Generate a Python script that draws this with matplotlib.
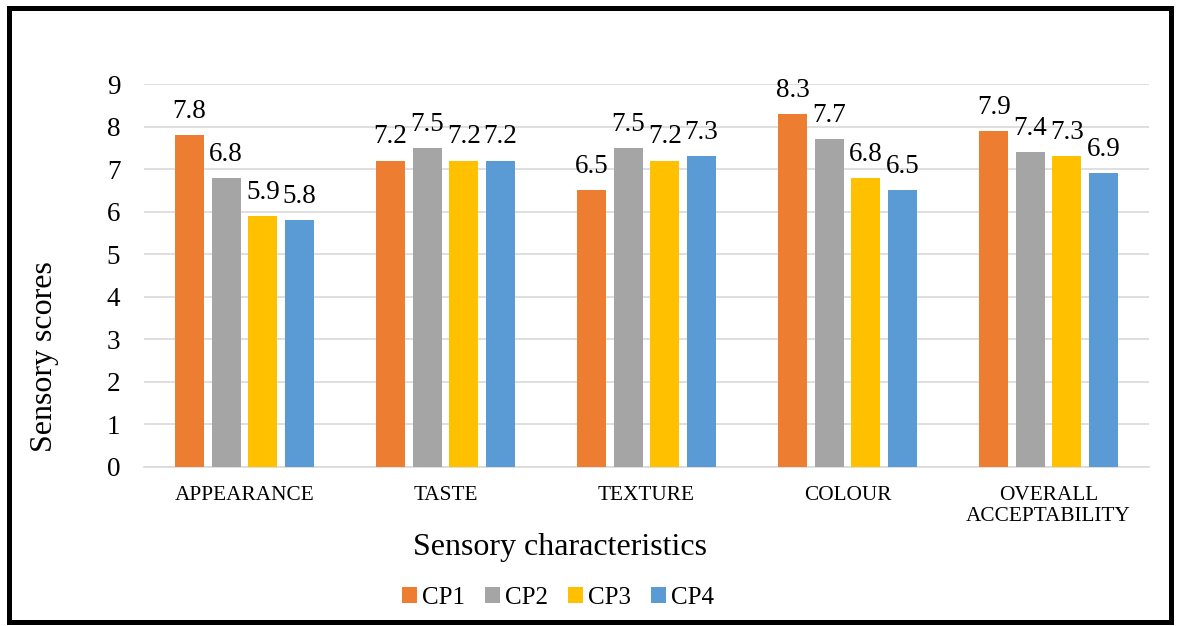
import numpy as np
import matplotlib
matplotlib.use("Agg")
import matplotlib.pyplot as plt
from matplotlib.patches import Rectangle

# -------------------------------------------------------
# Data
# -------------------------------------------------------
categories = ["APPEARANCE", "TASTE", "TEXTURE", "COLOUR", "OVERALL\nACCEPTABILITY"]
series     = ["CP1", "CP2", "CP3", "CP4"]
cp1 = [7.8, 7.2, 6.5, 8.3, 7.9]
cp2 = [6.8, 7.5, 7.5, 7.7, 7.4]
cp3 = [5.9, 7.2, 7.2, 6.8, 7.3]
cp4 = [5.8, 7.2, 7.3, 6.5, 6.9]
yticks = list(range(0, 10))

colors = ["#ED7D31", "#A5A5A5", "#FFC000", "#5B9BD5"]

plt.rcParams["font.family"] = ["Liberation Serif", "DejaVu Serif"]

fig = plt.figure(figsize=(11.78, 6.26), dpi=100)
ax = fig.add_axes([0.1222, 0.254, 0.8532, 0.6118])

x     = np.arange(len(categories))
step  = 0.182
width = 0.145
for i, (name, vals) in enumerate(zip(series, [cp1, cp2, cp3, cp4])):
    pos  = x + (i - 1.5) * step
    bars = ax.bar(pos, vals, width, color=colors[i], label=name, zorder=3)
    for b, v in zip(bars, vals):
        ax.annotate(f"{v:.1f}", xy=(b.get_x() + b.get_width() / 2, v),
                    xytext=(0, 8), textcoords="offset points",
                    ha="center", va="bottom", fontsize=19.5)

ax.set_xlim(-0.5, len(categories) - 0.5)
ax.set_ylim(0, 9)
ax.set_yticks(yticks)
ax.set_xticks(x)
ax.set_xticklabels(categories, fontsize=15.3, linespacing=1.1)
ax.tick_params(axis="y", labelsize=19.5, length=0, pad=17)
ax.tick_params(axis="x", length=0, pad=14)
ax.grid(axis="y", color="#D9D9D9", linewidth=1.2, zorder=0)
for s in ["top", "right", "left"]:
    ax.spines[s].set_visible(False)
ax.spines["bottom"].set_color("#D9D9D9")
ax.spines["bottom"].set_linewidth(1.2)

fig.text(0.038, 0.431, "Sensory scores", fontsize=23, rotation=90,
         ha="center", va="center")
fig.text(0.475, 0.125, "Sensory characteristics", fontsize=23,
         ha="center", va="center")

ax.legend(loc="center", bbox_to_anchor=(0.474, 0.045), bbox_transform=fig.transFigure,
          ncol=4, frameon=False, fontsize=18, handlelength=0.6, handleheight=0.6,
          handletextpad=0.2, columnspacing=0.8)

# outer frame
fig.patches.append(Rectangle((0.0077, 0.006), 0.9865, 0.9815, transform=fig.transFigure,
                             fill=False, edgecolor="black", linewidth=3.6))

fig.savefig("out.png", dpi=100)
